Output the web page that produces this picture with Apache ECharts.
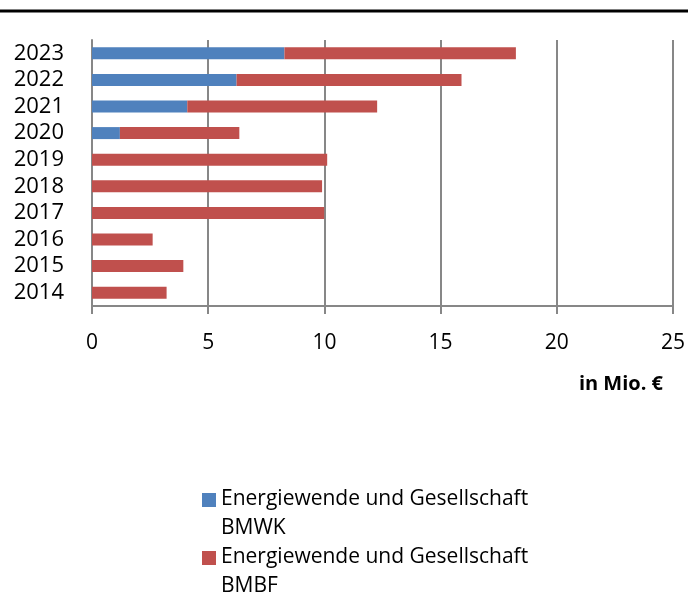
<!DOCTYPE html>
<html>
<head>
	<meta charset="utf-8">
	<title>Energiewende und Gesellschaft</title>
	<script src="https://cdn.jsdelivr.net/npm/echarts@6/dist/echarts.min.js"></script>
	<style>
		html, body { margin: 0; padding: 0; background: #fff; }
		#chart { width: 688px; height: 602px; }
	</style>
</head>
<body>
	<div id="chart"></div>
	<script>
		// Jahre (unten nach oben)
		var years = ['2014', '2015', '2016', '2017', '2018', '2019', '2020', '2021', '2022', '2023'];
		// in Mio. €
		var bmwk = [0, 0, 0, 0, 0, 0, 1.2, 4.1, 6.22, 8.28];
		var bmbf = [3.21, 3.93, 2.61, 9.99, 9.9, 10.12, 5.14, 8.17, 9.68, 9.96];
		var xTicks = [0, 5, 10, 15, 20, 25];
		var seriesNames = ['Energiewende und Gesellschaft\nBMWK', 'Energiewende und Gesellschaft\nBMBF'];

		var font = '"Open Sans", sans-serif';
		var chart = echarts.init(document.getElementById('chart'));

		var option = {
			animation: false,
			textStyle: { fontFamily: font },
			title: {
				text: 'in Mio. €',
				right: 20,
				top: 369,
				textStyle: { fontFamily: font, fontSize: 20, fontWeight: 'bold', color: '#000' }
			},
			legend: {
				orient: 'vertical',
				left: 202,
				top: 485,
				padding: 0,
				itemGap: 0,
				itemWidth: 14,
				itemHeight: 42,
				// quadrat oben, damit es an der ersten Zeile sitzt
				icon: 'path://M0,0L14,0L14,14L0,14Z M0,42L0.01,42',
				textStyle: { fontFamily: font, fontSize: 21, color: '#000', lineHeight: 29 },
				data: seriesNames
			},
			grid: { left: 92, right: 14, top: 40, bottom: 296 },
			xAxis: {
				type: 'value',
				min: xTicks[0],
				max: xTicks[xTicks.length - 1],
				interval: 5,
				axisLine: { show: true, lineStyle: { color: '#878787', width: 2 } },
				axisTick: { show: true, length: 8, lineStyle: { color: '#878787', width: 2 } },
				splitLine: { lineStyle: { color: '#878787', width: 2 } },
				axisLabel: { color: '#000', fontSize: 21, margin: 27, fontFamily: font }
			},
			yAxis: {
				type: 'category',
				data: years,
				axisLine: { lineStyle: { color: '#878787', width: 2 } },
				axisTick: { length: 5, lineStyle: { color: '#878787', width: 2 } },
				axisLabel: { color: '#000', fontSize: 22, margin: 28, interval: 0, fontFamily: font }
			},
			series: [
				{
					name: seriesNames[0],
					type: 'bar',
					stack: 'gesamt',
					barWidth: 12,
					itemStyle: { color: '#4F81BD' },
					data: bmwk
				},
				{
					name: seriesNames[1],
					type: 'bar',
					stack: 'gesamt',
					barWidth: 12,
					itemStyle: { color: '#C0504D' },
					data: bmbf
				}
			],
			graphic: [
				{
					type: 'line',
					shape: { x1: 0, y1: 11, x2: 688, y2: 11 },
					style: { stroke: '#000', lineWidth: 3 }
				}
			]
		};
		chart.setOption(option);

		window.onresize = function () {
			chart.resize();
		}
	</script>
</body>
</html>
